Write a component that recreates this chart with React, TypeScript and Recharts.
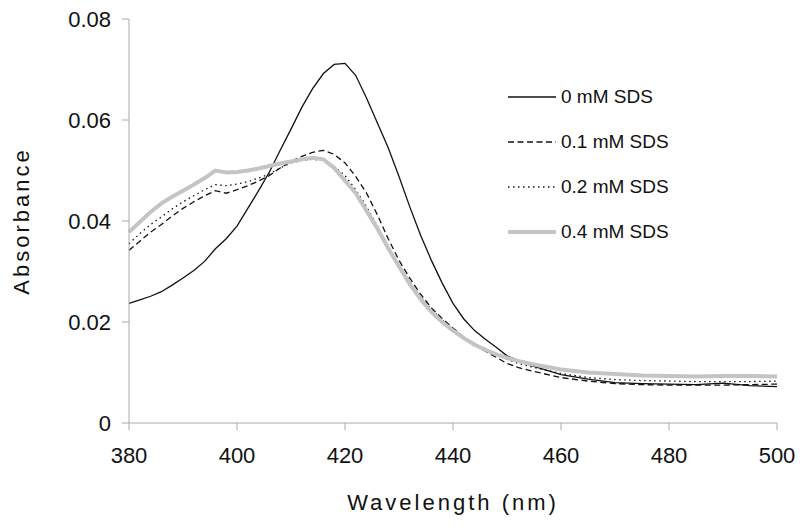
import { LineChart, Line, XAxis, YAxis } from 'recharts';

const wavelengths = [
  380, 382, 384, 386, 388, 390, 392, 394, 396, 398, 400, 402, 404, 406, 408, 410, 412, 414, 416, 418,
  420, 422, 424, 426, 428, 430, 432, 434, 436, 438, 440, 442, 444, 446, 448, 450, 452,
  455, 460, 465, 470, 475, 480, 485, 490, 495, 500,
];

const sds0 = [
  0.0237, 0.0244, 0.0251, 0.026, 0.0273, 0.0287, 0.0302, 0.032, 0.0345, 0.0365, 0.039, 0.0425, 0.046, 0.0497, 0.054, 0.0582, 0.0625, 0.0662, 0.0692, 0.071,
  0.0712, 0.0688, 0.0643, 0.0594, 0.0545, 0.0488, 0.0428, 0.0372, 0.0322, 0.0277, 0.0237, 0.0206, 0.0183, 0.0166, 0.015, 0.0133, 0.0124,
  0.0112, 0.0096, 0.0087, 0.008, 0.0078, 0.0077, 0.0076, 0.0079, 0.0074, 0.0072,
];

const sds01 = [
  0.0342, 0.036, 0.0378, 0.0393, 0.041, 0.0425, 0.0438, 0.045, 0.046, 0.0455, 0.0462, 0.047, 0.0479, 0.049, 0.0505, 0.0518, 0.0528, 0.0536, 0.054, 0.0532,
  0.0515, 0.0488, 0.0455, 0.0412, 0.0365, 0.0322, 0.0287, 0.0255, 0.0228, 0.0207, 0.0188, 0.017, 0.0155, 0.0142, 0.013, 0.0118, 0.011,
  0.0102, 0.009, 0.0083, 0.0078, 0.0076, 0.0075, 0.0075, 0.0075, 0.0076, 0.0077,
];

const sds02 = [
  0.0355, 0.0375, 0.0393, 0.0408, 0.0424, 0.0438, 0.045, 0.0462, 0.0472, 0.047, 0.0473, 0.0478, 0.0485, 0.0493, 0.0505, 0.0515, 0.052, 0.0522, 0.052, 0.0508,
  0.049, 0.0462, 0.0428, 0.039, 0.035, 0.0313, 0.028, 0.025, 0.0225, 0.0204, 0.0186, 0.017, 0.0157, 0.0146, 0.0136, 0.0126, 0.0118,
  0.011, 0.0098, 0.009, 0.0086, 0.0084, 0.0083, 0.0082, 0.0082, 0.0082, 0.0083,
];

const sds04 = [
  0.0378, 0.0398, 0.0418, 0.0435, 0.0448, 0.046, 0.0472, 0.0485, 0.05, 0.0496, 0.0497, 0.05, 0.0504, 0.0509, 0.0514, 0.0518, 0.0522, 0.0525, 0.0522, 0.0505,
  0.048, 0.0455, 0.042, 0.0385, 0.0346, 0.031, 0.0275, 0.0245, 0.022, 0.02, 0.0183, 0.0168, 0.0155, 0.0145, 0.0136, 0.0129, 0.0123,
  0.0116, 0.0106, 0.01, 0.0097, 0.0094, 0.0093, 0.0092, 0.0093, 0.0093, 0.0092,
];

const xTicks = [380, 400, 420, 440, 460, 480, 500];
const yTicks = [0, 0.02, 0.04, 0.06, 0.08];

const seriesNames = ['0 mM SDS', '0.1 mM SDS', '0.2 mM SDS', '0.4 mM SDS'];

const data = wavelengths.map((wl, i) => ({
  wl,
  s0: sds0[i],
  s1: sds01[i],
  s2: sds02[i],
  s4: sds04[i],
}));

const series = [
  { key: 's0', name: seriesNames[0], color: '#111', width: 1.3, dash: undefined },
  { key: 's1', name: seriesNames[1], color: '#111', width: 1.3, dash: '6 3.5' },
  { key: 's2', name: seriesNames[2], color: '#111', width: 1.3, dash: '1.5 3.5' },
  { key: 's4', name: seriesNames[3], color: '#c4c4c4', width: 4, dash: undefined },
];

const font = '"Liberation Sans", Arial, sans-serif';
const axisColor = '#aaaaaa';

// legend sits over the plot, so keep it out of recharts' layout
function LegendBox() {
  return (
    <div style={{ position: 'absolute', left: 508, top: 74, fontFamily: font, fontSize: 19, color: '#111' }}>
      {series.map((s) => (
        <div key={s.key} style={{ height: 45, display: 'flex', alignItems: 'center' }}>
          <svg width={48} height={8} style={{ display: 'block' }}>
            <line x1={0} y1={4} x2={48} y2={4} stroke={s.color} strokeWidth={s.width} strokeDasharray={s.dash} />
          </svg>
          <span style={{ marginLeft: 5, whiteSpace: 'nowrap' }}>{s.name}</span>
        </div>
      ))}
    </div>
  );
}

export default function App() {
  return (
    <div style={{ position: 'absolute', left: 0, top: 0, width: 800, height: 530, background: '#fff' }}>
      <LineChart
        width={800}
        height={530}
        data={data}
        margin={{ top: 19, right: 23, left: 0, bottom: 0 }}
        style={{ fontFamily: font }}
      >
        <XAxis
          dataKey="wl"
          type="number"
          domain={[380, 500]}
          ticks={xTicks}
          height={107}
          stroke={axisColor}
          tickSize={7}
          tickMargin={17}
          tick={{ fill: '#111', fontSize: 22 }}
          label={{
            value: 'Wavelength (nm)',
            position: 'insideBottom',
            offset: 20,
            fill: '#111',
            fontSize: 22,
            style: { letterSpacing: 3 },
          }}
        />
        <YAxis
          type="number"
          domain={[0, 0.08]}
          ticks={yTicks}
          width={129}
          stroke={axisColor}
          tickSize={7}
          tickMargin={11}
          tick={{ fill: '#111', fontSize: 22 }}
          tickFormatter={(v: number) => (v === 0 ? '0' : v.toFixed(2))}
          label={{
            content: (props: any) => {
              const vb = props.viewBox || { x: 0, y: 0, width: 129, height: 404 };
              const cx = vb.x + 21;
              const cy = vb.y + vb.height / 2;
              return (
                <text
                  x={cx}
                  y={cy}
                  transform={`rotate(-90 ${cx} ${cy})`}
                  textAnchor="middle"
                  dominantBaseline="central"
                  fill="#111"
                  fontSize={22}
                  style={{ letterSpacing: 3 }}
                >
                  Absorbance
                </text>
              );
            },
          }}
        />
        {series.map((s) => (
          <Line
            key={s.key}
            dataKey={s.key}
            name={s.name}
            type="linear"
            stroke={s.color}
            strokeWidth={s.width}
            strokeDasharray={s.dash}
            dot={false}
            isAnimationActive={false}
          />
        ))}
      </LineChart>
      <LegendBox />
    </div>
  );
}
